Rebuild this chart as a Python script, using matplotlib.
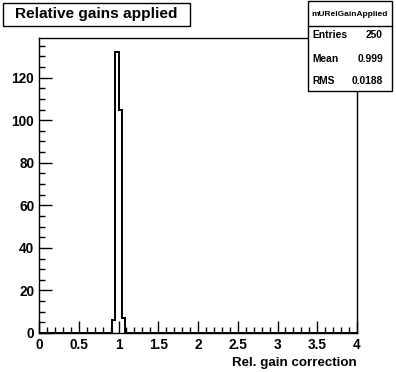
import numpy as np
import matplotlib
matplotlib.use("Agg")
import matplotlib.pyplot as plt
from matplotlib.ticker import MultipleLocator
from matplotlib.patches import Rectangle

plt.rcParams["font.family"] = ["Liberation Sans", "DejaVu Sans"]
plt.rcParams["font.weight"] = "bold"

# histogram: 100 bins over [0, 4]
n_bins = 100
x_lo, x_hi = 0.0, 4.0
peak_bin_lows = [0.92, 0.96, 1.00, 1.04]
peak_counts = [6, 132, 105, 7]

title = "Relative gains applied"
hist_name = "mURelGainApplied"
stat_labels = ["Entries", "Mean", "RMS"]
stat_values = ["250", "0.999", "0.0188"]
x_label = "Rel. gain correction"

edges = np.linspace(x_lo, x_hi, n_bins + 1)
counts = np.zeros(n_bins)
width = (x_hi - x_lo) / n_bins
for lo, c in zip(peak_bin_lows, peak_counts):
    counts[int(round((lo - x_lo) / width))] = c

W, H = 396, 372
fig = plt.figure(figsize=(W / 100, H / 100), dpi=100)
ax = fig.add_axes([39 / W, 1 - 333 / H, (357 - 39) / W, (333 - 38) / H])

ax.stairs(counts, edges, color="black", linewidth=1.4, baseline=0)
ax.set_xlim(x_lo, x_hi)
ax.set_ylim(0, max(counts) * 1.05)

ax.xaxis.set_major_locator(MultipleLocator(0.5))
ax.xaxis.set_minor_locator(MultipleLocator(0.1))
ax.yaxis.set_major_locator(MultipleLocator(20))
ax.yaxis.set_minor_locator(MultipleLocator(5))
ax.tick_params(which="both", direction="in", top=False, right=False, width=1)
ax.tick_params(which="major", length=9, labelsize=9.8, pad=3.5)
ax.tick_params(which="minor", length=4.5)
ax.xaxis.set_major_formatter(plt.FuncFormatter(lambda v, p: f"{v:g}"))
for lbl in ax.get_xticklabels() + ax.get_yticklabels():
    lbl.set_fontweight("bold")
for s in ax.spines.values():
    s.set_linewidth(1)

fig.text(357 / W, 1 - 363 / H, x_label, ha="right", va="center",
         fontsize=9.6, fontweight="bold")

# title box
fig.patches.append(Rectangle((3 / W, 1 - 26 / H), (190 - 3) / W, 23 / H,
                             transform=fig.transFigure, fill=True,
                             facecolor="white", edgecolor="black", lw=1))
fig.text(96 / W, 1 - 14 / H, title, ha="center", va="center",
         fontsize=11.1, fontweight="bold")

# stats box
bx0, bx1, by0, by1 = 308, 392, 1, 91
fig.patches.append(Rectangle((bx0 / W, 1 - by1 / H), (bx1 - bx0) / W,
                             (by1 - by0) / H, transform=fig.transFigure,
                             facecolor="white", edgecolor="black", lw=1,
                             zorder=5))
fig.add_artist(plt.Line2D([bx0 / W, bx1 / W], [1 - 26 / H, 1 - 26 / H],
                          transform=fig.transFigure, color="black", lw=1,
                          zorder=6))
fig.text((bx0 + bx1) / 2 / W, 1 - 14 / H, hist_name, ha="center",
         va="center", fontsize=6.0, fontweight="bold", zorder=7)
for i, (lab, val) in enumerate(zip(stat_labels, stat_values)):
    yy = 1 - (35.5 + 23 * i) / H
    fig.text(312 / W, yy, lab, ha="left", va="center", fontsize=7.4,
             fontweight="bold", zorder=7)
    fig.text(383 / W, yy, val, ha="right", va="center", fontsize=7.4,
             fontweight="bold", zorder=7)

fig.savefig("out.png", dpi=100, facecolor="white")
